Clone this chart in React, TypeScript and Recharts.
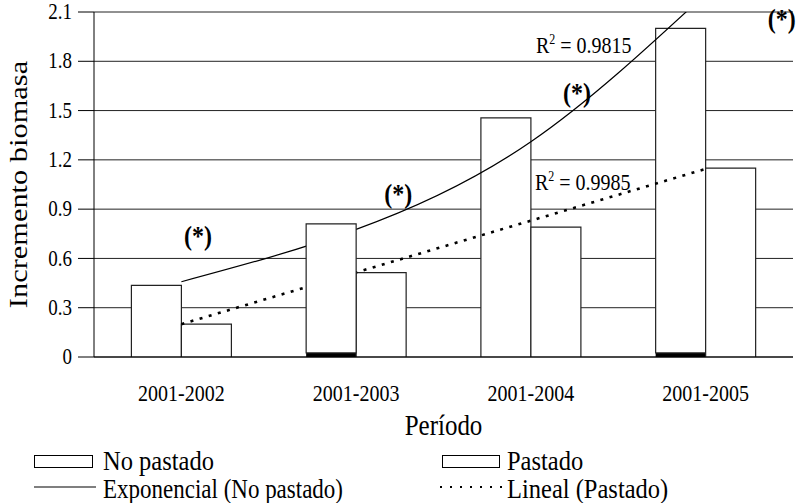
import React from 'react';
import { ComposedChart, Bar, Line, XAxis, YAxis, CartesianGrid, ReferenceDot } from 'recharts';

// ---- data ----
const periods = ['2001-2002', '2001-2003', '2001-2004', '2001-2005'];
const noPastado = [0.436, 0.81, 1.455, 2.0];
const noPastadoDark = [0, 0.025, 0, 0.025];
const pastado = [0.2, 0.513, 0.79, 1.15];
const expNoPastado = [0.458, 0.777, 1.31, 2.21];
const linPastado = [0.2, 0.515, 0.83, 1.145];
// which "No pastado" bars hide the trend lines in the reference
const hidesTrend = [false, true, false, false];
const yTicks = [0, 0.3, 0.6, 0.9, 1.2, 1.5, 1.8, 2.1];
const yTickLabels = ['0', '0.3', '0.6', '0.9', '1.2', '1.5', '1.8', '2.1'];
const boundaryTicks = [0, 1, 2, 3, 4];
const seriesNames = ['No pastado', 'Pastado', 'Exponencial (No pastado)', 'Lineal (Pastado)'];
const r2Values = ['0.9815', '0.9985'];
const starText = '(*)';

const data = periods.map((p, i) => {
  const light = +(noPastado[i] - noPastadoDark[i]).toFixed(3);
  return {
    period: p,
    dark: noPastadoDark[i],
    lightBack: hidesTrend[i] ? 0 : light,
    lightFront: hidesTrend[i] ? light : 0,
    pastado: pastado[i],
    exp: expNoPastado[i],
    lin: linPastado[i],
  };
});

const FONT = '"Liberation Serif", "Times New Roman", serif';
const SY = 1.17;

function SText({ x, y, size, anchor = 'start', weight = 'normal', sy = SY, textLength, children }: any) {
  const extra: any = textLength ? { textLength, lengthAdjust: 'spacingAndGlyphs' } : {};
  return (
    <text
      transform={`translate(${x},${y}) scale(1,${sy})`}
      x={0}
      y={0}
      textAnchor={anchor}
      fontSize={size}
      fontWeight={weight}
      fontFamily={FONT}
      fill="#000"
      {...extra}
    >
      {children}
    </text>
  );
}

const YTick = (p: any) => {
  const idx = yTicks.indexOf(p.payload.value);
  return (
    <SText x={p.x} y={p.y + 7.2} size={19} anchor="end">
      {idx >= 0 ? yTickLabels[idx] : String(p.payload.value)}
    </SText>
  );
};

const XTick = (p: any) => (
  <SText x={p.x} y={p.y + 44} size={20} anchor="middle">
    {p.payload.value}
  </SText>
);

const R2 = ({ x, y, value }: any) => (
  <text
    transform={`translate(${x},${y}) scale(1,${SY})`}
    x={0}
    y={0}
    fontSize={20}
    fontFamily={FONT}
    fill="#000"
  >
    <tspan>R</tspan>
    <tspan fontSize={12} dy={-8}>2</tspan>
    <tspan dy={8}>{' = ' + value}</tspan>
  </text>
);

const Star = ({ x, y }: any) => (
  <SText x={x} y={y} size={24} anchor="middle" weight="bold">
    {starText}
  </SText>
);

export default function App() {
  return (
    <div style={{ position: 'absolute', left: 0, top: 0, width: 799, height: 503, background: '#fff' }}>
      <ComposedChart
        width={799}
        height={503}
        data={data}
        margin={{ top: 12, right: 6, left: 0, bottom: 66 }}
        barCategoryGap="21.4%"
        barGap={0}
      >
        <CartesianGrid vertical={false} stroke="#222" strokeWidth={1} yAxisId="y" />
        <XAxis
          xAxisId="b"
          type="number"
          domain={[0, 4]}
          ticks={boundaryTicks}
          allowDataOverflow
          height={0}
          tick={false}
          tickSize={7}
          axisLine={false}
          tickLine={{ stroke: '#000' }}
        />
        <XAxis
          xAxisId="cat"
          dataKey="period"
          height={80}
          tickLine={false}
          tickSize={0}
          tickMargin={0}
          axisLine={{ stroke: '#000' }}
          tick={<XTick />}
          label={{
            content: (props: any) => {
              const vb = props.viewBox || { x: 94, y: 357, width: 699, height: 80 };
              return (
                <SText x={vb.x + vb.width / 2} y={vb.y + 78} size={25} anchor="middle">
                  Período
                </SText>
              );
            },
          }}
        />
        <YAxis
          yAxisId="y"
          width={94}
          domain={[0, 2.1]}
          ticks={yTicks}
          allowDataOverflow
          interval={0}
          tickSize={16}
          tickMargin={6}
          axisLine={{ stroke: '#000' }}
          tickLine={{ stroke: '#000' }}
          tick={<YTick />}
          label={{
            content: (props: any) => {
              const vb = props.viewBox || { x: 0, y: 12, width: 94, height: 345 };
              return (
                <text
                  transform={`translate(${vb.x + 27},${vb.y + vb.height / 2}) rotate(-90) scale(${SY},1)`}
                  x={0}
                  y={0}
                  textAnchor="middle"
                  fontSize={26}
                  fontFamily={FONT}
                  fill="#000"
                >
                  Incremento biomasa
                </text>
              );
            },
          }}
        />
        <Bar xAxisId="cat" yAxisId="y" dataKey="dark" stackId="np" fill="#000" stroke="none" isAnimationActive={false} />
        <Bar xAxisId="cat" yAxisId="y" dataKey="lightBack" stackId="np" fill="#fff" stroke="#222" strokeWidth={1.2} isAnimationActive={false} />
        <Bar xAxisId="cat" yAxisId="y" dataKey="pastado" fill="#fff" stroke="#222" strokeWidth={1.2} isAnimationActive={false} />
        <Line
          xAxisId="cat"
          yAxisId="y"
          dataKey="exp"
          type="natural"
          stroke="#000"
          strokeWidth={1.2}
          dot={false}
          isAnimationActive={false}
          zIndex={350}
        />
        <Line
          xAxisId="cat"
          yAxisId="y"
          dataKey="lin"
          type="linear"
          stroke="#000"
          strokeWidth={2.6}
          strokeDasharray="3 6.5"
          dot={false}
          isAnimationActive={false}
          zIndex={350}
        />
        <Bar xAxisId="cat" yAxisId="y" dataKey="lightFront" stackId="np" fill="#fff" stroke="#222" strokeWidth={1.2} isAnimationActive={false} zIndex={360} />

        <ReferenceDot xAxisId="cat" yAxisId="y" x={periods[0]} y={0.682} r={1} ifOverflow="visible" shape={(p: any) => <Star x={p.cx + 16.6} y={p.cy} />} />
        <ReferenceDot xAxisId="cat" yAxisId="y" x={periods[1]} y={0.937} r={1} ifOverflow="visible" shape={(p: any) => <Star x={p.cx + 42} y={p.cy} />} />
        <ReferenceDot xAxisId="cat" yAxisId="y" x={periods[2]} y={1.552} r={1} ifOverflow="visible" shape={(p: any) => <Star x={p.cx + 46} y={p.cy} />} />
        <ReferenceDot xAxisId="cat" yAxisId="y" x={periods[3]} y={2.0} r={1} ifOverflow="visible" shape={(p: any) => <Star x={p.cx + 76} y={p.cy} />} />
        <ReferenceDot xAxisId="cat" yAxisId="y" x={periods[2]} y={1.85} r={1} ifOverflow="visible" shape={(p: any) => <R2 x={p.cx + 5} y={p.cy} value={r2Values[0]} />} />
        <ReferenceDot xAxisId="cat" yAxisId="y" x={periods[2]} y={1.0165} r={1} ifOverflow="visible" shape={(p: any) => <R2 x={p.cx + 4} y={p.cy} value={r2Values[1]} />} />
      </ComposedChart>
      <svg width={799} height={503} style={{ position: 'absolute', left: 0, top: 0, pointerEvents: 'none' }}>
        <rect x={34.5} y={455.5} width={58} height={12} fill="#fff" stroke="#000" />
        <SText x={103} y={470} size={24.5} sy={1.1}>{seriesNames[0]}</SText>
        <rect x={442.5} y={455.5} width={57} height={12} fill="#fff" stroke="#000" />
        <SText x={507} y={470} size={24.5} sy={1.1}>{seriesNames[1]}</SText>
        <line x1={34} x2={96} y1={487} y2={487} stroke="#000" strokeWidth={1.2} />
        <SText x={103} y={498} size={24.5} sy={1.1} textLength={240}>{seriesNames[2]}</SText>
        <line x1={440} x2={502} y1={487} y2={487} stroke="#000" strokeWidth={2} strokeDasharray="2 8" />
        <SText x={507} y={498} size={24.5} sy={1.1}>{seriesNames[3]}</SText>
      </svg>
    </div>
  );
}
